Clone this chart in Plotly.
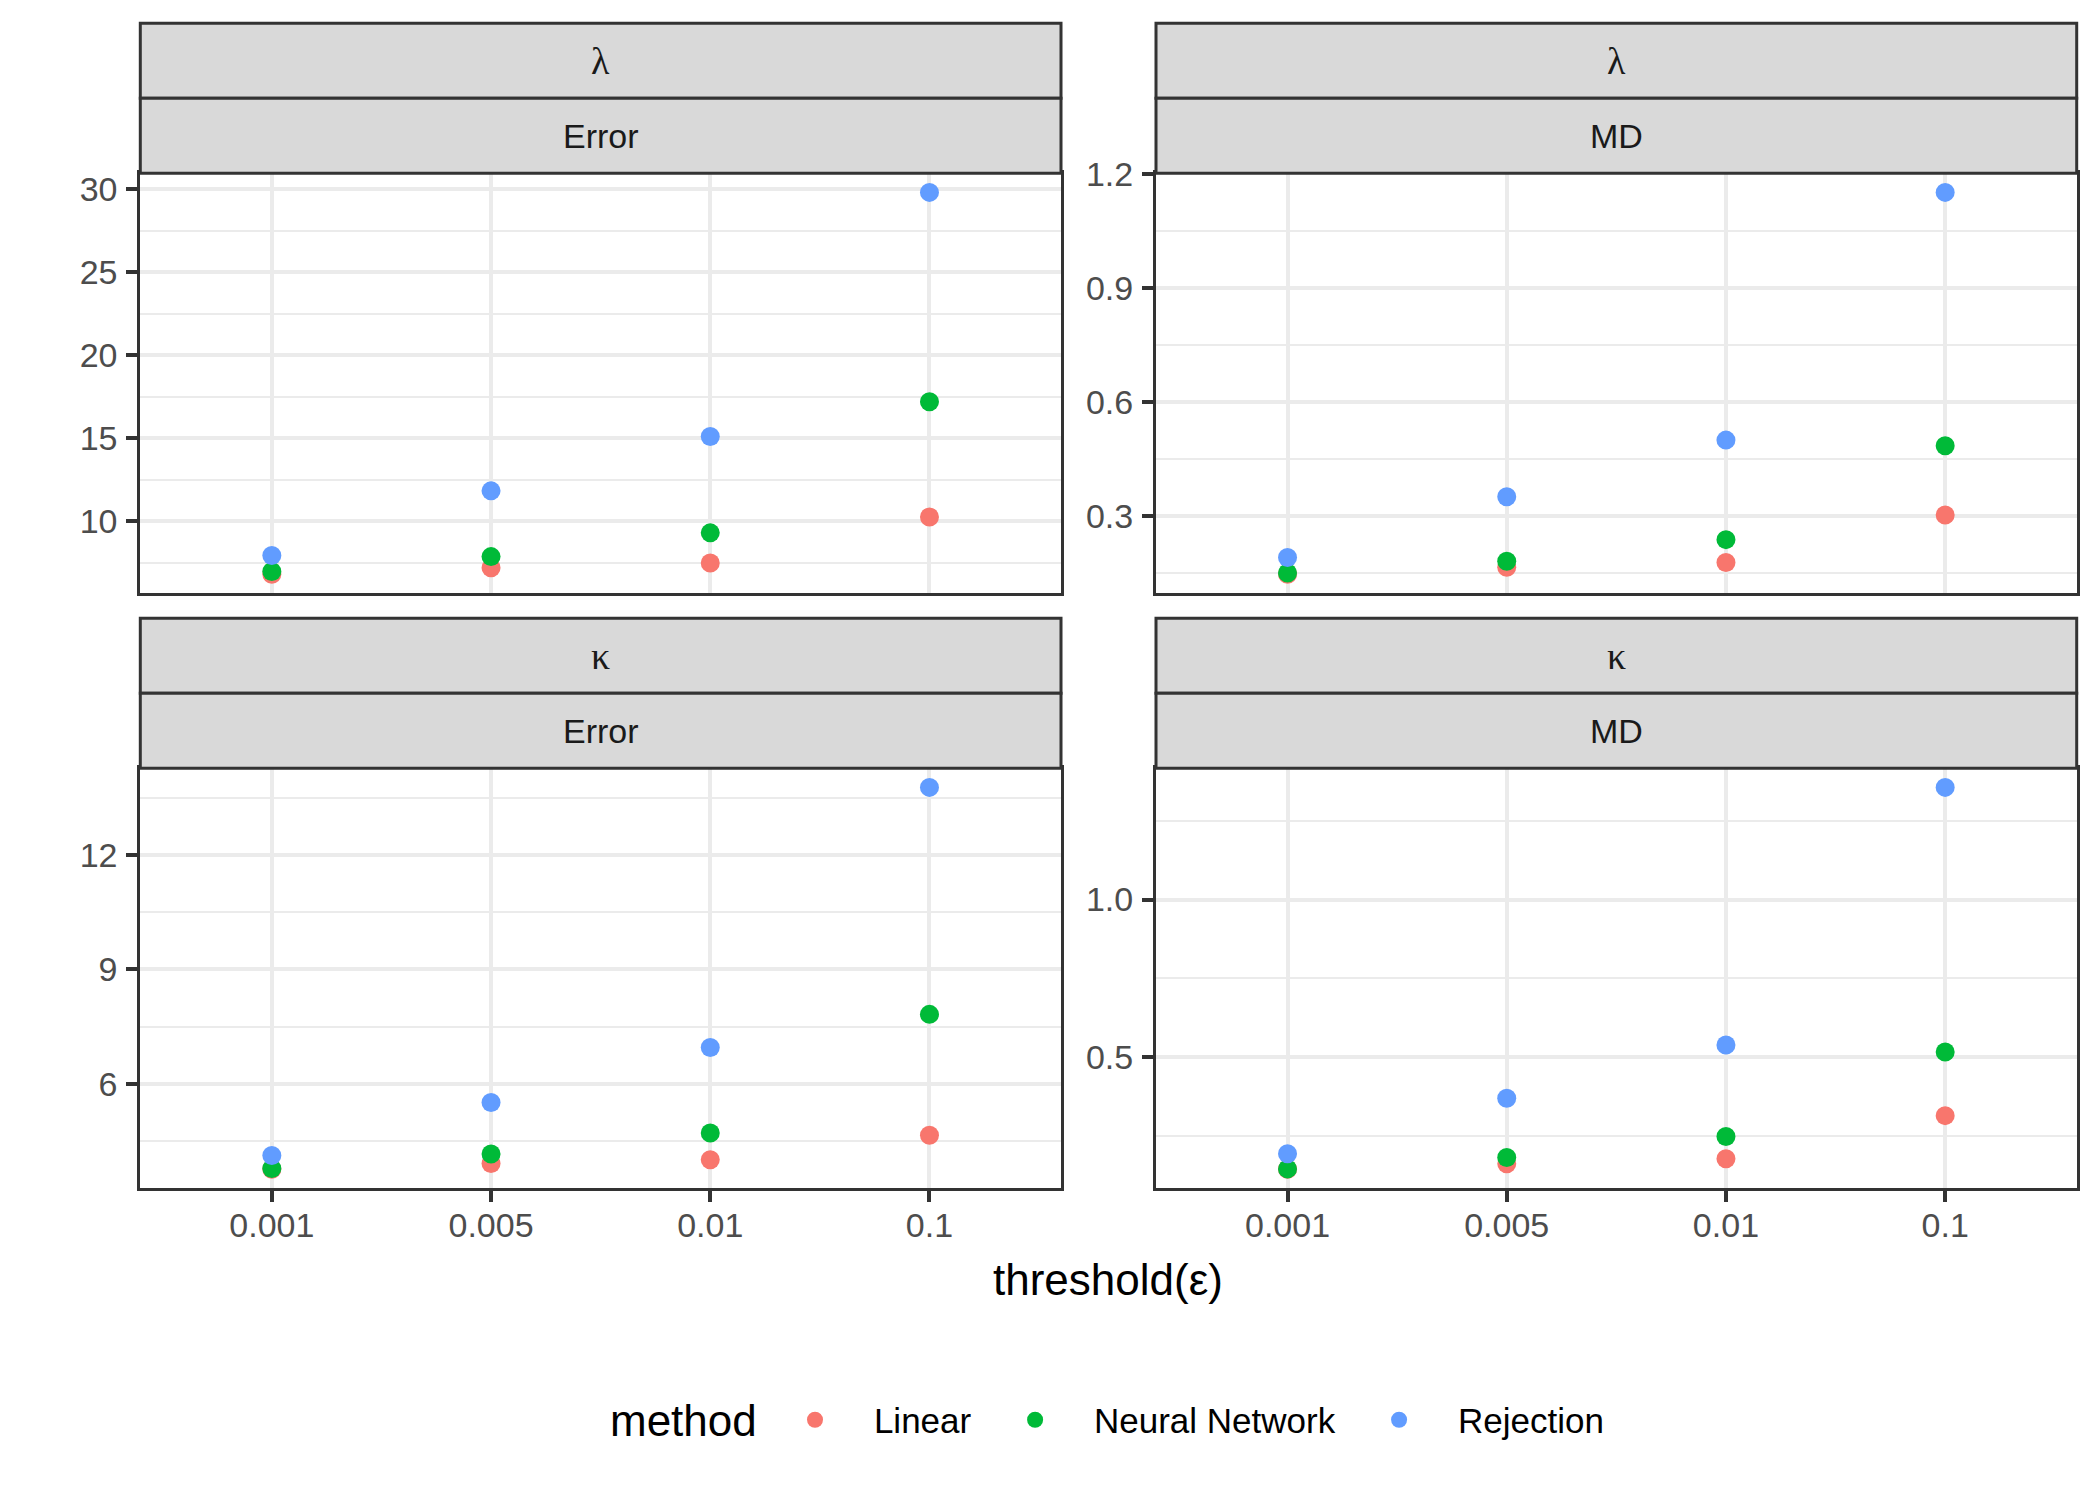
import plotly.graph_objects as go

thresholds = ["0.001", "0.005", "0.01", "0.1"]
methods = ["Linear", "Neural Network", "Rejection"]
method_colors = ["#F8766D", "#00BA38", "#619CFF"]

# lambda / Error
lambda_error_linear = [6.80, 7.19, 7.47, 10.25]
lambda_error_nn = [6.96, 7.86, 9.29, 17.19]
lambda_error_rej = [7.93, 11.82, 15.09, 29.80]
# lambda / MD
lambda_md_linear = [0.146, 0.164, 0.177, 0.302]
lambda_md_nn = [0.149, 0.180, 0.237, 0.484]
lambda_md_rej = [0.190, 0.350, 0.499, 1.151]
# kappa / Error
kappa_error_linear = [3.76, 3.91, 4.01, 4.65]
kappa_error_nn = [3.78, 4.16, 4.71, 7.82]
kappa_error_rej = [4.12, 5.51, 6.95, 13.77]
# kappa / MD
kappa_md_linear = [0.144, 0.161, 0.177, 0.314]
kappa_md_nn = [0.145, 0.181, 0.248, 0.516]
kappa_md_rej = [0.193, 0.369, 0.538, 1.356]

panels = [
    dict(param="λ", metric="Error", series=[lambda_error_linear, lambda_error_nn, lambda_error_rej],
         dtick=5, fmt="d"),
    dict(param="λ", metric="MD", series=[lambda_md_linear, lambda_md_nn, lambda_md_rej],
         dtick=0.3, fmt=".1f"),
    dict(param="κ", metric="Error", series=[kappa_error_linear, kappa_error_nn, kappa_error_rej],
         dtick=3, fmt="d"),
    dict(param="κ", metric="MD", series=[kappa_md_linear, kappa_md_nn, kappa_md_rej],
         dtick=0.5, fmt=".1f"),
]

W, H = 2100, 1500
x_doms = [(140.3, 1061.0), (1156.0, 2076.7)]
y_panels = [(173.3, 593.3), (768.3, 1188.3)]
y_strips = [(23.3, 98.3, 173.3), (618.3, 693.3, 768.3)]

def px_x(v):
    return v / W

def px_y(v):
    return 1 - v / H

NB = "\u00a0"
fig = go.Figure()
BORDER = "#333333"
GRID = "#EBEBEB"
TICKC = "#4D4D4D"
STRIPF = "#D9D9D9"

shapes = []
annotations = []
layout_axes = {}

for i, p in enumerate(panels):
    row, col = divmod(i, 2)
    k = "" if i == 0 else str(i + 1)
    xa, ya = "x" + k, "y" + k
    for j, (m, vals, c) in enumerate(zip(methods, p["series"], method_colors)):
        trail = NB * 4 if j < len(methods) - 1 else ""
        fig.add_trace(go.Scatter(
            x=thresholds, y=vals, mode="markers", name=NB * 4 + m + trail,
            legendgroup=m, showlegend=(i == 0),
            marker=dict(color=c, size=19, line=dict(width=0)),
            xaxis=xa, yaxis=ya, cliponaxis=False,
        ))
    allv = [v for s in p["series"] for v in s]
    lo, hi = min(allv), max(allv)
    pad = 0.05 * (hi - lo)
    x0, x1 = x_doms[col]
    y0, y1 = y_panels[row]
    layout_axes["xaxis" + k] = dict(
        domain=[px_x(x0), px_x(x1)], anchor=ya, type="category",
        categoryorder="array", categoryarray=thresholds, automargin=False,
        range=[-0.6, 3.6], showgrid=True, gridcolor=GRID, gridwidth=3.5,
        showline=True, linecolor=BORDER, linewidth=3, mirror=True,
        ticks="outside" if row == 1 else "", ticklen=11, tickwidth=3.5, tickcolor=BORDER,
        showticklabels=(row == 1),
        tickfont=dict(family="Liberation Sans", size=34, color=TICKC),
        ticklabelstandoff=-6, zeroline=False,
    )
    layout_axes["yaxis" + k] = dict(
        domain=[px_y(y1), px_y(y0)], anchor=xa, automargin=False,
        range=[lo - pad, hi + pad], tick0=0, dtick=p["dtick"], tickformat=p["fmt"],
        showgrid=True, gridcolor=GRID, gridwidth=3.5,
        minor=dict(tick0=p["dtick"] / 2, dtick=p["dtick"], showgrid=True,
                   gridcolor=GRID, gridwidth=1.75, ticks=""),
        showline=True, linecolor=BORDER, linewidth=3, mirror=True,
        ticks="outside", ticklen=11, tickwidth=3.5, tickcolor=BORDER,
        tickfont=dict(family="Liberation Sans", size=34, color=TICKC),
        ticklabelstandoff=2, zeroline=False,
    )
    # strips
    s0, s1, s2 = y_strips[row]
    for (a, b, txt, fam, fs) in [(s0, s1, p["param"], "Liberation Serif", 38),
                                 (s1, s2, p["metric"], "Liberation Sans", 34)]:
        shapes.append(dict(type="rect", xref="paper", yref="paper",
                           x0=px_x(x0), x1=px_x(x1), y0=px_y(b), y1=px_y(a),
                           fillcolor=STRIPF, line=dict(color=BORDER, width=3), layer="above"))
        annotations.append(dict(xref="paper", yref="paper", x=px_x((x0 + x1) / 2),
                                y=px_y((a + b) / 2), text=txt, showarrow=False,
                                xanchor="center", yanchor="middle",
                                font=dict(family=fam, size=fs, color="#1A1A1A")))

annotations.append(dict(xref="paper", yref="paper", x=px_x(1108), y=px_y(1279),
                        text="threshold(ε)", showarrow=False, xanchor="center", yanchor="middle",
                        font=dict(family="Liberation Sans", size=44, color="#000000")))
annotations.append(dict(xref="paper", yref="paper", x=px_x(683), y=px_y(1420),
                        text="method", showarrow=False, xanchor="center", yanchor="middle",
                        font=dict(family="Liberation Sans", size=44, color="#000000")))

fig.update_layout(
    width=W, height=H, autosize=False,
    margin=dict(l=0, r=0, t=0, b=0, autoexpand=False),
    paper_bgcolor="white", plot_bgcolor="white",
    shapes=shapes, annotations=annotations,
    legend=dict(orientation="h", x=px_x(795), xanchor="left", y=px_y(1420), yanchor="middle",
                font=dict(family="Liberation Sans", size=35, color="#000000"),
                itemsizing="trace", bgcolor="rgba(0,0,0,0)"),
    **layout_axes,
)

fig.write_html("out.html")
